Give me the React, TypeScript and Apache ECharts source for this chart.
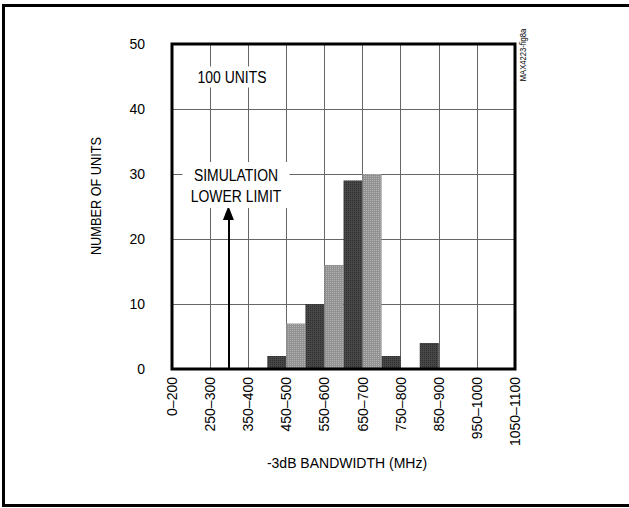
import React, { useEffect, useRef } from "react";
import * as echarts from "echarts";

const tickLabels = ["0–200", "250–300", "350–400", "450–500", "550–600", "650–700", "750–800", "850–900", "950–1000", "1050–1100"];
const bins = ["150–200", "200–250", "250–300", "300–350", "350–400", "400–450", "450–500", "500–550", "550–600", "600–650", "650–700", "700–750", "750–800", "800–850", "850–900", "900–950", "950–1000", "1000–1050"];
const counts = [0, 0, 0, 0, 0, 2, 7, 10, 16, 29, 30, 2, 0, 4, 0, 0, 0, 0];
const yTicks = { min: 0, max: 50, interval: 10 };
const simLimitPos = 1.48; // in tick-label units
const simArrowTop = 24;

const FONT = "'Liberation Sans', Arial, Helvetica, sans-serif";

export default function App() {
  const ref = useRef<HTMLDivElement>(null);
  useEffect(() => {
    document.body.style.margin = "0";
    const chart = echarts.init(ref.current!, undefined, { renderer: "svg" });
    const dark = "#474747";
    const light = "#929292";
    const L = 172, T = 44, R = 114, B = 139;
    const W = 629 - L - R, H = 508 - T - B;
    chart.setOption({
      animation: false,
      backgroundColor: "#fff",
      grid: { left: L, top: T, right: R, bottom: B, show: false },
      xAxis: [
        { type: "category", data: bins, show: false, boundaryGap: true },
        {
          type: "value", min: 0, max: 9, interval: 1, position: "bottom",
          axisLine: { show: false }, axisTick: { show: false },
          splitLine: { show: true, lineStyle: { color: "#666", width: 1 } },
          axisLabel: {
            rotate: 90, margin: 8, color: "#000", fontSize: 14, fontFamily: FONT,
            formatter: (v: number) => tickLabels[Math.round(v)] ?? "",
          },
        },
      ],
      yAxis: {
        type: "value", ...yTicks,
        axisLine: { show: false }, axisTick: { show: false },
        splitLine: { show: true, lineStyle: { color: "#666", width: 1 } },
        axisLabel: { margin: 27, color: "#000", fontSize: 14, fontFamily: FONT },
      },
      series: [
        {
          type: "bar", xAxisIndex: 0, barCategoryGap: "0%",
          data: counts.map((v, i) => ({
            value: v,
            itemStyle: {
              color: i % 2 === 1 ? dark : light,
              decal: {
                symbol: "rect", symbolSize: 1, dashArrayX: [1, 1], dashArrayY: [1, 1],
                color: i % 2 === 1 ? "rgba(0,0,0,0.35)" : "rgba(255,255,255,0.3)",
              },
            },
          })),
        },
        {
          type: "line", xAxisIndex: 1, data: [], silent: true,
          markLine: {
            silent: true, symbol: ["none", "triangle"], symbolSize: [11, 14],
            label: { show: false },
            lineStyle: { color: "#000", width: 2, type: "solid" },
            data: [[{ coord: [simLimitPos, 0] }, { coord: [simLimitPos, simArrowTop] }]],
          },
        },
      ],
      graphic: [
        { type: "rect", shape: { x: L, y: T, width: W, height: H }, style: { fill: "none", stroke: "#000", lineWidth: 3 }, z: 100 },
        { type: "rect", shape: { x: 3.5, y: 5.5, width: 640, height: 500 }, style: { fill: "none", stroke: "#000", lineWidth: 3 }, z: 100 },
        {
          type: "text", x: 232, y: 77, z: 50, scaleX: 0.82,
          style: { text: "100 UNITS", font: `17px ${FONT}`, fill: "#000", align: "center", verticalAlign: "middle", backgroundColor: "#fff", padding: [2, 4] },
        },
        {
          type: "text", x: 236, y: 185, z: 50, scaleX: 0.82,
          style: { text: "SIMULATION\nLOWER LIMIT", font: `17px ${FONT}`, lineHeight: 21, fill: "#000", align: "center", verticalAlign: "middle", backgroundColor: "#fff", padding: [2, 10] },
        },
        {
          type: "text", x: 523, y: 55, rotation: Math.PI / 2, z: 50, scaleX: 0.85,
          style: { text: "MAX4223-fig8a", font: `9px ${FONT}`, fill: "#000", align: "center", verticalAlign: "middle" },
        },
        {
          type: "text", x: 95.5, y: 196, rotation: Math.PI / 2, z: 50, scaleX: 0.85,
          style: { text: "NUMBER OF UNITS", font: `15px ${FONT}`, fill: "#000", align: "center", verticalAlign: "middle" },
        },
        {
          type: "text", x: 347, y: 463, z: 50,
          style: { text: "-3dB BANDWIDTH (MHz)", font: `14px ${FONT}`, fill: "#000", align: "center", verticalAlign: "middle" },
        },
      ],
    });
    return () => chart.dispose();
  }, []);
  return <div ref={ref} style={{ width: 629, height: 508 }} />;
}
